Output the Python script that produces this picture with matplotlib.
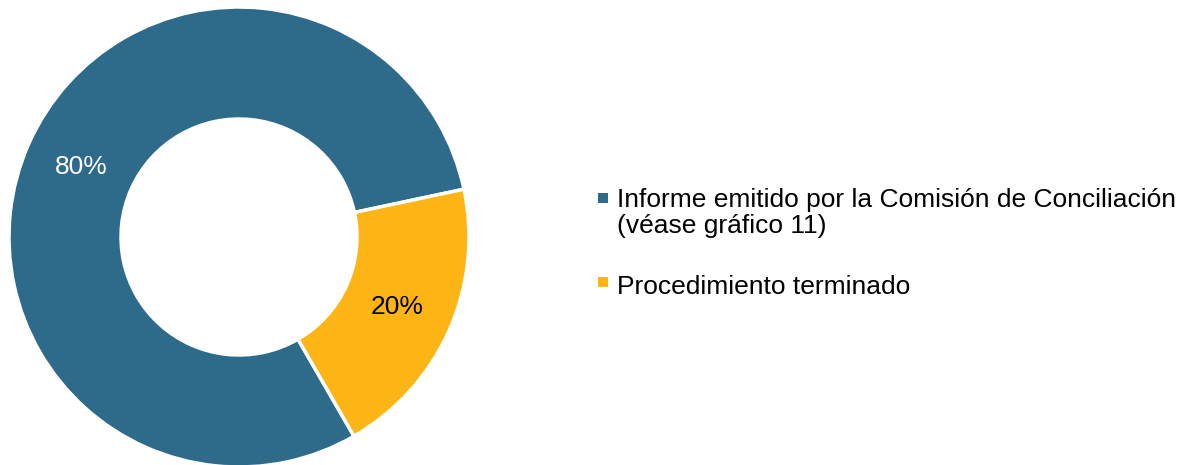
import matplotlib.pyplot as plt
from matplotlib.patches import Rectangle

plt.rcParams['font.family'] = ['Liberation Sans', 'DejaVu Sans']

categories = ['Informe emitido por la Comisión de Conciliación\n(véase gráfico 11)',
              'Procedimiento terminado']
values = [80, 20]
colors = ['#2E6B8A', '#FDB515']
pct_colors = ['white', 'black']

W, H = 1189, 465
fig = plt.figure(figsize=(W / 100, H / 100), dpi=100)

# donut: center (239, 237) px, radius 230 px
cx, cy, r = 239, 237, 230
ax = fig.add_axes([(cx - r) / W, (H - cy - r) / H, 2 * r / W, 2 * r / H])
wedges, texts, autotexts = ax.pie(
    values, colors=colors, startangle=12, counterclock=True,
    radius=1.0, autopct='%1.0f%%', pctdistance=0.75,
    wedgeprops=dict(width=0.487, edgecolor='white', linewidth=2.5),
    textprops=dict(fontsize=19))
for t, c in zip(autotexts, pct_colors):
    t.set_color(c)
ax.set_xlim(-1, 1)
ax.set_ylim(-1, 1)
ax.set_aspect('equal')
ax.axis('off')

# legend drawn by hand so the square sits on the first line
# (last line baseline, square top) in px
label_pos = [(233, 193), (294, 277)]
for lab, col, (base, sq) in zip(categories, colors, label_pos):
    fig.patches.append(Rectangle((598 / W, 1 - (sq + 10) / H), 10 / W, 10 / H,
                                 transform=fig.transFigure, facecolor=col,
                                 edgecolor='none'))
    fig.text(617 / W, 1 - base / H, lab, fontsize=19, va='baseline', ha='left',
             linespacing=1.08)

fig.savefig('out.png', dpi=100)
